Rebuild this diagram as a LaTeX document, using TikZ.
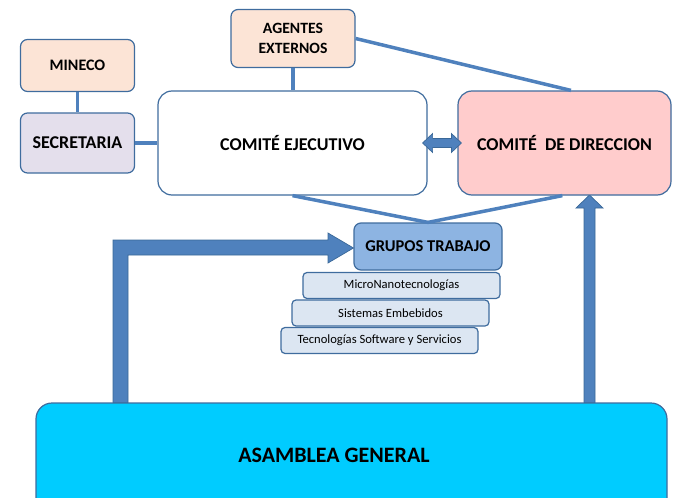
\documentclass[tikz,border=0pt]{standalone}
\usepackage{fontspec}
\setmainfont{Carlito}
\usetikzlibrary{calc}
\definecolor{linec}{HTML}{4F81BD}
\definecolor{bordc}{HTML}{3F6C9E}
\definecolor{arrowb}{HTML}{3A6898}
\definecolor{peach}{HTML}{FCE4D6}
\definecolor{lav}{HTML}{E4DFEC}
\definecolor{pinkc}{HTML}{FFCCCC}
\definecolor{grupc}{HTML}{8DB4E2}
\definecolor{subc}{HTML}{DCE6F2}
\definecolor{cyanc}{HTML}{00CCFF}
\tikzset{
  box/.style={draw=bordc, line width=1.2pt, rounded corners=7pt, align=center, inner sep=0pt, font=\bfseries\fontsize{15}{17}\selectfont},
  subbox/.style={draw=bordc, line width=1.2pt, rounded corners=4pt, fill=subc, inner sep=0pt, minimum width=197pt, minimum height=26pt, font=\fontsize{12.6}{14}\selectfont},
  conn/.style={draw=linec, line width=3.5pt},
  blockarrow/.style={fill=linec, draw=arrowb, line width=0.7pt, line join=miter}
}
\begin{document}
\begin{tikzpicture}[x=1pt,y=-1pt]
\useasboundingbox (0,0) rectangle (673,498);
% block arrows (behind)
\draw[blockarrow] (113,403) -- (113,240) -- (328,240) -- (328,233) -- (353.5,248) -- (328,263) -- (328,255) -- (128,255) -- (128,403) -- cycle;
\draw[blockarrow] (584,403) -- (584,208) -- (576,208) -- (589.5,195) -- (603,208) -- (595,208) -- (595,403) -- cycle;
% boxes
\node[box, fill=peach, minimum width=114pt, minimum height=52pt, font=\bfseries\fontsize{16}{18}\selectfont] (mineco) at (77.5,65.5) {MINECO};
\node[box, fill=lav, minimum width=114pt, minimum height=60pt, font=\bfseries\fontsize{18}{20}\selectfont] (secre) at (77.5,143) {SECRETARIA};
\node[box, fill=peach, minimum width=124pt, minimum height=58pt, font=\bfseries\fontsize{15.7}{20}\selectfont] (agentes) at (293,38.5) {AGENTES\\EXTERNOS};
\node[box, fill=white, minimum width=269pt, minimum height=104pt, rounded corners=14pt, font=\bfseries\fontsize{18}{20}\selectfont] (ejec) at (292.5,143) {COMITÉ EJECUTIVO};
\node[box, fill=pinkc, minimum width=213pt, minimum height=104pt, rounded corners=14pt, font=\bfseries\fontsize{18}{20}\selectfont] (direc) at (564.5,143) {COMITÉ\ \ DE DIRECCION};
\node[box, fill=grupc, minimum width=148pt, minimum height=47pt, font=\bfseries\fontsize{16.5}{18}\selectfont] (grupos) at (428,246.5) {GRUPOS TRABAJO};
\node[subbox] (sub1) at (401.5,285.5) {MicroNanotecnologías};
\node[subbox] (sub2) at (390.5,313) {Sistemas Embebidos};
\node[subbox] (sub3) at (379.5,340.5) {Tecnologías Software y Servicios};
\node[box, fill=cyanc, minimum width=631pt, minimum height=150pt, rounded corners=16pt] (asam) at (351.5,478) {};
\node[font=\bfseries\fontsize{22}{24}\selectfont, inner sep=0pt] (asamtext) at (334,455) {ASAMBLEA GENERAL};
% connectors
\draw[conn] (mineco.south) -- (secre.north);
\draw[conn] (secre.east) -- (ejec.west);
\draw[conn] (agentes.south) -- (agentes.south |- ejec.north);
\draw[conn] (agentes.east) -- ($(direc.north west)!0.53!(direc.north east)$);
\draw[conn] (ejec.south) -- (grupos.north);
\draw[conn] ($(direc.south west)!0.49!(direc.south east)$) -- (grupos.north);
% double arrow
\coordinate (dl) at ($(ejec.east)+(-5,0)$);
\coordinate (dr) at ($(direc.west)+(4,0)$);
\draw[blockarrow] (dl) -- ++(10,-9.5) -- ++(0,5) -- ($(dr)+(-10,-4.5)$) -- ++(0,-5) -- (dr) -- ++(-10,9.5) -- ++(0,-5) -- ($(dl)+(10,4.5)$) -- ++(0,5) -- cycle;
\end{tikzpicture}
\end{document}
